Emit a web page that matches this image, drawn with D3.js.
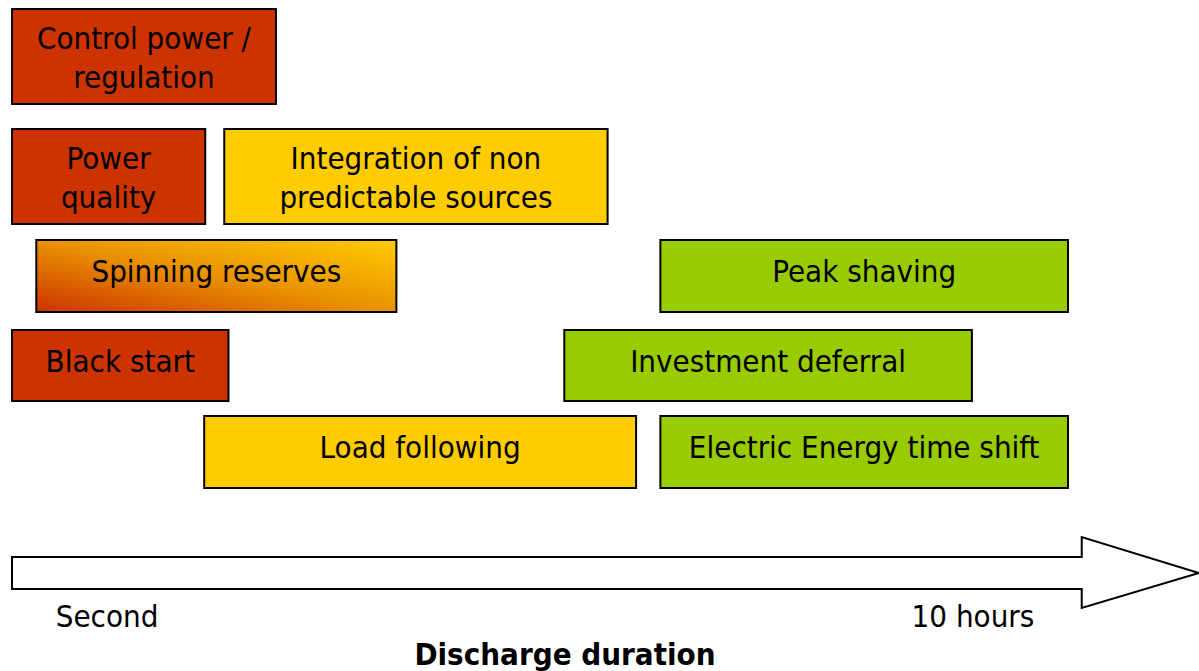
<html>
<head>
    <meta http-equiv="Content-Type" content="text/html;charset=utf-8">
    <title>Storage applications - discharge duration</title>
    <style>
        body { margin: 0; background: #fff; }
        text { font-family: "DejaVu Sans Condensed", "DejaVu Sans", Tahoma, sans-serif; font-stretch: condensed; fill: #000; }
    </style>
</head>
<body>
</body>
<script type="text/javascript" src="https://cdn.jsdelivr.net/npm/d3@7/dist/d3.min.js"></script>
<script>
    var w = 1199, h = 671;

    // applications, one box each; start/end on a relative discharge-duration scale (0 = second, 100 = beyond 10 hours)
    var labels = [
        ['Control power /', 'regulation'],
        ['Power', 'quality'],
        ['Integration of non', 'predictable sources'],
        ['Spinning reserves'],
        ['Black start'],
        ['Load following'],
        ['Peak shaving'],
        ['Investment deferral'],
        ['Electric Energy time shift']
    ];
    var starts = [0, 0, 20.1, 2.3, 0, 18.2, 61.4, 52.3, 61.4];
    var ends   = [25, 18.3, 56.4, 36.4, 20.5, 59.1, 100, 90.9, 100];
    var rows   = [0, 1, 1, 2, 3, 4, 2, 3, 4];
    var kinds  = ['fast', 'fast', 'mid', 'mixed', 'fast', 'mid', 'long', 'long', 'long'];

    var tickLabels = ['Second', '10 hours'];
    var tickValues = [9, 91];
    var axisTitle = 'Discharge duration';

    var data = labels.map(function (l, i) {
        return {lines: l, start: starts[i], end: ends[i], row: rows[i], kind: kinds[i]};
    });

    var x = d3.scaleLinear().domain([0, 100]).range([12, 1068]);
    var rowTop = d3.scaleOrdinal().domain([0, 1, 2, 3, 4]).range([9, 129, 240, 330, 416]);
    var rowHeight = d3.scaleOrdinal().domain([0, 1, 2, 3, 4]).range([95, 95, 72, 71, 72]);
    var fill = d3.scaleOrdinal()
        .domain(['fast', 'mid', 'long', 'mixed'])
        .range(['#CC3300', '#FFCC00', '#99CC00', 'url(#mixGrad)']);

    var svg = d3.select('body')
            .append('svg')
            .attr('width', w)
            .attr('height', h);

    // red -> yellow blend for the one mixed box, running from its lower left to upper right
    var mixed = data.filter(function (d) { return d.kind === 'mixed'; })[0];
    var gx = x(mixed.start), gy = rowTop(mixed.row) + rowHeight(mixed.row);
    var grad = svg.append('defs').append('linearGradient')
            .attr('id', 'mixGrad')
            .attr('gradientUnits', 'userSpaceOnUse')
            .attr('x1', gx).attr('y1', gy)
            .attr('x2', gx + 28).attr('y2', gy - 139);
    grad.append('stop').attr('offset', '0%').attr('stop-color', '#CC3300');
    grad.append('stop').attr('offset', '50%').attr('stop-color', '#E99200');
    grad.append('stop').attr('offset', '100%').attr('stop-color', '#FFCC00');

    var boxes = svg.selectAll('g.box')
            .data(data)
            .enter()
            .append('g')
            .attr('class', 'box');

    boxes.append('rect')
            .attr('x', function (d) { return x(d.start); })
            .attr('y', function (d) { return rowTop(d.row); })
            .attr('width', function (d) { return x(d.end) - x(d.start); })
            .attr('height', function (d) { return rowHeight(d.row); })
            .attr('fill', function (d) { return fill(d.kind); })
            .attr('stroke', '#000')
            .attr('stroke-width', 2);

    boxes.each(function (d) {
        var cx = (x(d.start) + x(d.end)) / 2;
        var cy = rowTop(d.row) + rowHeight(d.row) / 2;
        var n = d.lines.length;
        var off = n > 1 ? 11.5 : 6;
        d3.select(this).selectAll('text')
            .data(d.lines)
            .enter()
            .append('text')
            .attr('x', cx)
            .attr('y', function (t, i) { return cy + off + (i - (n - 1) / 2) * 39; })
            .attr('text-anchor', 'middle')
            .style('font-size', '31px')
            .text(function (t) { return t; });
    });

    // the duration arrow
    var bodyTop = 557, bodyBot = 589, headTop = 537, headBot = 608, tipY = 573;
    var headX = x(101.3), tipX = x(112.4);
    var p = d3.path();
    p.moveTo(x(0), bodyTop);
    p.lineTo(headX, bodyTop);
    p.lineTo(headX, headTop);
    p.lineTo(tipX, tipY);
    p.lineTo(headX, headBot);
    p.lineTo(headX, bodyBot);
    p.lineTo(x(0), bodyBot);
    p.closePath();
    svg.append('path')
            .attr('d', p.toString())
            .attr('fill', '#fff')
            .attr('stroke', '#000')
            .attr('stroke-width', 2);

    svg.selectAll('text.tick')
            .data(tickLabels)
            .enter()
            .append('text')
            .attr('class', 'tick')
            .attr('x', function (d, i) { return x(tickValues[i]); })
            .attr('y', 627)
            .attr('text-anchor', 'middle')
            .style('font-size', '31px')
            .text(function (d) { return d; });

    svg.append('text')
            .attr('x', 565)
            .attr('y', 665)
            .attr('text-anchor', 'middle')
            .style('font-size', '31px')
            .style('font-weight', 'bold')
            .text(axisTitle);
</script>
</html>
